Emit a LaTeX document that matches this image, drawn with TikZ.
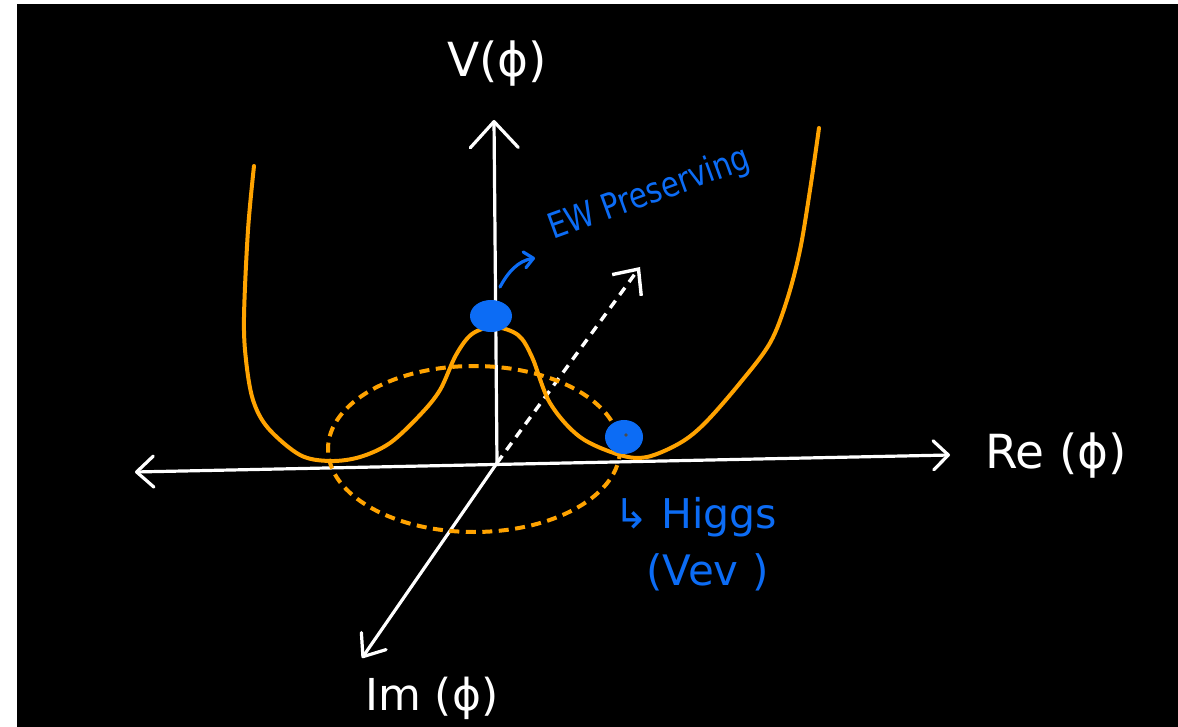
\documentclass[tikz,border=0pt]{standalone}
\usepackage{fontspec}
\setmainfont{DejaVu Sans}
\usetikzlibrary{arrows.meta,shapes.geometric}
\definecolor{potorange}{RGB}{255,163,0}
\definecolor{noteblue}{RGB}{12,108,245}
\begin{document}
\begin{tikzpicture}[x=1pt,y=-1pt,
  axisline/.style={draw=white,line width=3.2pt,line cap=round,line join=round},
  potcurve/.style={draw=potorange,line width=4pt,line cap=round,line join=round},
  dashring/.style={draw=potorange,line width=4pt,dash pattern=on 10pt off 6.5pt},
  dirarrow/.style={draw=white,line width=3.4pt,dash pattern=on 9pt off 7pt},
  blob/.style={fill=noteblue,draw=noteblue,line width=1pt},
  notearrow/.style={draw=noteblue,line width=3.2pt,line cap=round},
  whitelabel/.style={text=white,inner sep=0pt,anchor=base west},
  bluelabel/.style={text=noteblue,inner sep=0pt,anchor=base west}]
\useasboundingbox (0,0) rectangle (1178,727);
\fill[white] (0,0) rectangle (1178,727);
\fill[black] (17,4) rectangle (1178,727);

% axes
\coordinate (O) at (497,463);
\coordinate (Vtip) at (494,120);
\coordinate (Rtip) at (950,455);
\coordinate (Ltip) at (135,472);
\coordinate (Itip) at (362,658);
\coordinate (Dtip) at (640,267);
\draw[axisline,-{Straight Barb[length=26pt,width=48pt,round]}] (O) -- (Vtip);
\draw[axisline,{Straight Barb[length=17pt,width=31pt,round]}-{Straight Barb[length=15pt,width=29pt,round]}] (Ltip) -- (Rtip);
\draw[axisline,-{Straight Barb[length=19pt,width=30pt,round]}] (O) -- (Itip);
\draw[dirarrow,-{Straight Barb[length=20pt,width=36pt]}] (O) -- (Dtip);

% potential
\draw[dashring] (474,449) ellipse [x radius=146, y radius=83];
\draw[potcurve] plot[smooth, tension=0.55] coordinates {(254,166) (248,230) (244,317) (246,360) (253,400) (268,428) (300,455) (330,461) (360,457) (390,443) (420,415) (440,390) (456,355) (472,334) (494,327) (518,335) (532,357) (550,403) (580,437) (620,455) (647,457) (680,443) (705,423) (740,383) (770,343) (787,300) (800,250) (810,190) (819,128)};

% blobs
\node[blob,ellipse,minimum width=41pt,minimum height=31pt,inner sep=0pt] (top) at (491,316) {};
\node[blob,ellipse,minimum width=37pt,minimum height=33pt,inner sep=0pt] (vev) at (624,437) {};
\fill[black!70] (626,435) circle (1.8pt);

% labels
\node[whitelabel,font=\fontsize{47}{47}\selectfont] (vlab) at (447,77) {V(ϕ)};
\node[whitelabel,font=\fontsize{47}{47}\selectfont] (relab) at (985,468) {Re (ϕ)};
\node[whitelabel,font=\fontsize{44}{44}\selectfont] (imlab) at (365,710) {Im (ϕ)};
\node[bluelabel,rotate=20,font=\fontsize{35}{35}\selectfont] (ew) at (553,240) {\scalebox{0.84}[1]{EW Preserving}};
\node[bluelabel,font=\fontsize{41}{41}\selectfont] (higgs) at (614,528) {↳ Higgs};
\node[bluelabel,font=\fontsize{42}{42}\selectfont] (vevlab) at (646,585) {(Vev )};

\coordinate (ea) at (500,287);
\coordinate (eb) at (535,258);
\draw[notearrow,-{Straight Barb[length=9pt,width=16pt,round]}] (ea) .. controls (508,272) and (518,261) .. (eb);
\end{tikzpicture}
\end{document}
